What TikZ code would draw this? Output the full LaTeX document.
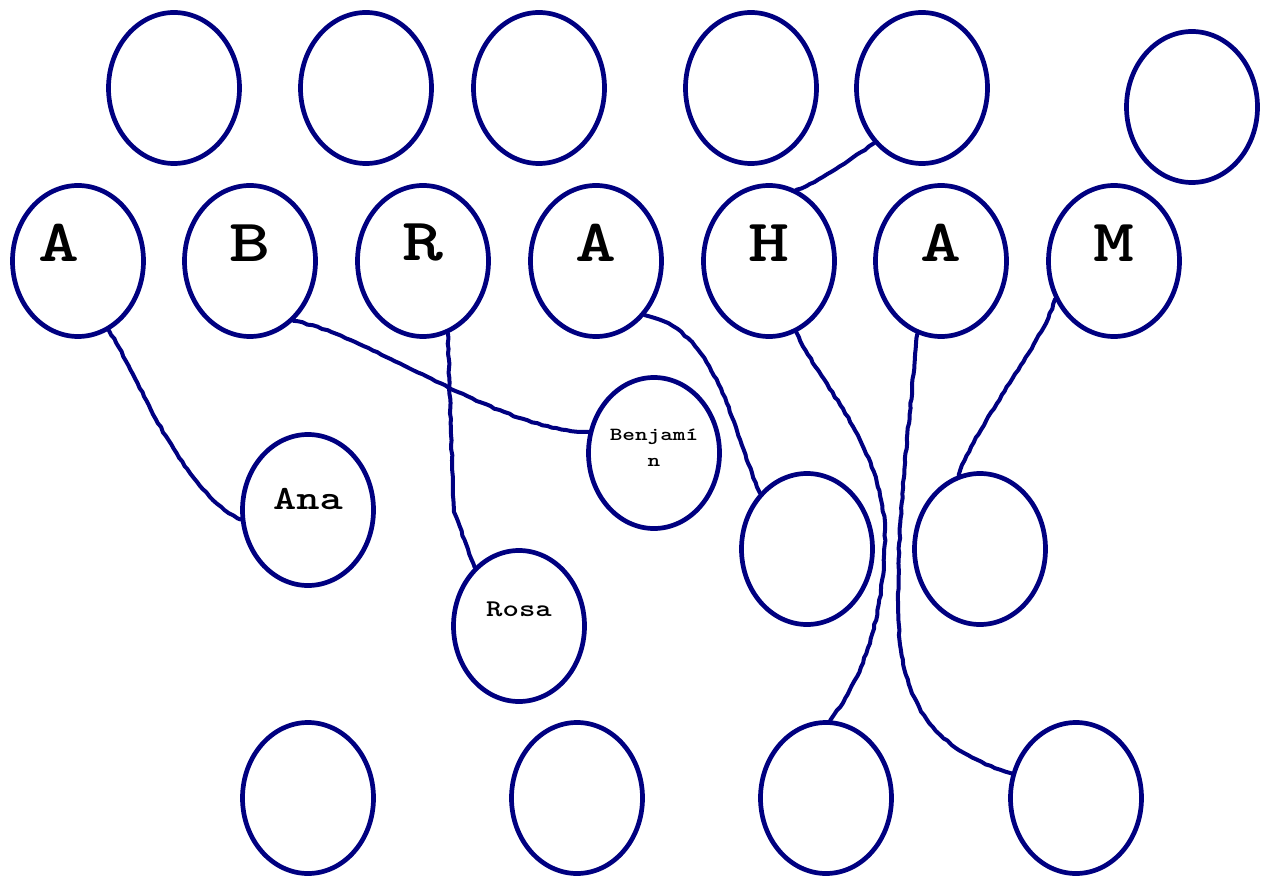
\documentclass[tikz,border=0pt]{standalone}
\usepackage{fontspec}
\newfontfamily\tipo{lmmonolt10-bold.otf}[FakeStretch=1.3]
\usetikzlibrary{shapes.geometric,decorations.pathmorphing}
\definecolor{navy}{HTML}{000080}

\begin{document}
\begin{tikzpicture}[x=1pt,y=-1pt,
  bola/.style={ellipse,draw=navy,line width=4.7pt,minimum width=131pt,minimum height=151pt,inner sep=0pt},
  letra/.style={font=\tipo\fontsize{60}{66}\selectfont,yshift=18pt},
  nombre/.style={align=center},
  lazo/.style={draw=navy,line width=4pt,line cap=round,line join=round,
    decorate,decoration={random steps,segment length=5pt,amplitude=0.6pt}}]
  \useasboundingbox (0,0) rectangle (1271,877);
  % fila de arriba
  \foreach \n/\x in {t1/174,t2/366,t3/539,t4/751,t5/922} \node[bola] (\n) at (\x,88) {};
  \node[bola] (t6) at (1192,107) {};
  % ABRAHAM
  \node[bola,label={[letra,xshift=-19pt]center:A}] (a1) at (78,261) {};
  \foreach \n/\x/\l in {b/250/B,r/423/R,a2/596/A,h/769/H,a3/941/A,m/1114/M}
    \node[bola,label={[letra]center:\l}] (\n) at (\x,261) {};
  % hijos
  \node[bola,label={[nombre,font=\tipo\fontsize{34}{38}\selectfont,yshift=11pt]center:Ana}] (ana) at (308,510) {};
  \node[bola,label={[nombre,font=\tipo\fontsize{18.5}{26}\selectfont,yshift=5pt]center:Benjamí\\n}] (benjamin) at (654,453) {};
  \node[bola,label={[nombre,font=\tipo\fontsize{24}{28}\selectfont,yshift=17pt]center:Rosa}] (rosa) at (519,626) {};
  \node[bola] (e1) at (807,549) {};
  \node[bola] (e2) at (980,549) {};
  % fila de abajo
  \foreach \n/\x in {u1/308,u2/577,u3/826,u4/1076} \node[bola] (\n) at (\x,798) {};
  % lazos
  \draw[lazo] (a1.-66) .. controls (140,380) and (180,490) .. (ana.188);
  \draw[lazo] (b.-54) .. controls (370,335) and (500,432) .. (benjamin.162);
  \draw[lazo] (r.-71) -- (451,435) -- (454,512) -- (rosa.127);
  \draw[lazo] (a2.-48) .. controls (720,330) and (735,440) .. (e1.130);
  \draw[lazo] (h.69) .. controls (815,185) and (850,160) .. (t5.229);
  \draw[lazo] (h.-69) .. controls (820,385) and (880,440) .. (885,530)
    .. controls (885,600) and (870,670) .. (u3.87);
  \draw[lazo] (a3.-108) .. controls (912,400) and (898,500) .. (898,600)
    .. controls (898,680) and (915,745) .. (u4.159);
  \draw[lazo] (m.213) .. controls (1045,340) and (975,425) .. (e2.106);
\end{tikzpicture}
\end{document}
